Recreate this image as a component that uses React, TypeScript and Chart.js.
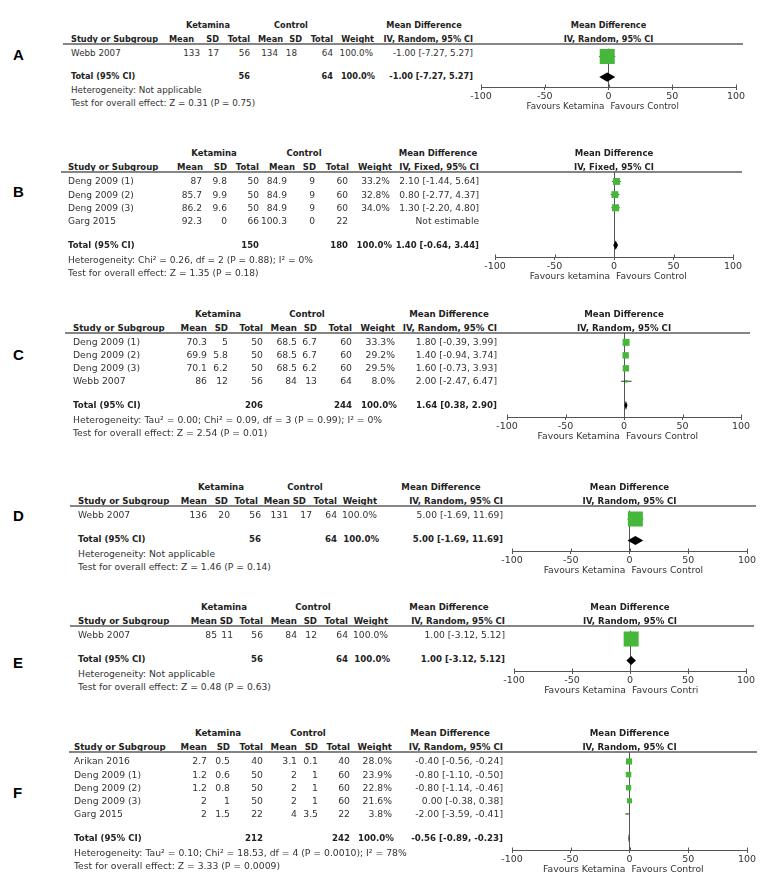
import React, { useEffect, useRef } from "react";
import { Chart, registerables } from "chart.js";

Chart.register(...registerables);

const FONT = '"DejaVu Sans", Verdana, sans-serif';
const GREEN = "#45b83a";
const INK = "#333333";

// ---------- shared axis ticks ----------
const xTicks = [-100, -50, 0, 50, 100];

// ---------- Panel A ----------
const studiesA = ["Webb 2007"];
const ketMeanA = ["133"];
const ketSdA = ["17"];
const ketNA = [56];
const ctlMeanA = ["134"];
const ctlSdA = ["18"];
const ctlNA = [64];
const weightA = [100.0];
const mdA = [-1.0];
const loA = [-7.27];
const hiA = [5.27];
const totalsA = [56, 64, 100.0];
const pooledA = [-1.0, -7.27, 5.27];
const hetA = "Heterogeneity: Not applicable";
const testA = "Test for overall effect: Z = 0.31 (P = 0.75)";

// ---------- Panel B ----------
const studiesB = ["Deng 2009 (1)", "Deng 2009 (2)", "Deng 2009 (3)", "Garg 2015"];
const ketMeanB = ["87", "85.7", "86.2", "92.3"];
const ketSdB = ["9.8", "9.9", "9.6", "0"];
const ketNB = [50, 50, 50, 66];
const ctlMeanB = ["84.9", "84.9", "84.9", "100.3"];
const ctlSdB = ["9", "9", "9", "0"];
const ctlNB = [60, 60, 60, 22];
const weightB = [33.2, 32.8, 34.0, null];
const mdB = [2.1, 0.8, 1.3, null];
const loB = [-1.44, -2.77, -2.2, null];
const hiB = [5.64, 4.37, 4.8, null];
const totalsB = [150, 180, 100.0];
const pooledB = [1.4, -0.64, 3.44];
const hetB = "Heterogeneity: Chi² = 0.26, df = 2 (P = 0.88); I² = 0%";
const testB = "Test for overall effect: Z = 1.35 (P = 0.18)";

// ---------- Panel C ----------
const studiesC = ["Deng 2009 (1)", "Deng 2009 (2)", "Deng 2009 (3)", "Webb 2007"];
const ketMeanC = ["70.3", "69.9", "70.1", "86"];
const ketSdC = ["5", "5.8", "6.2", "12"];
const ketNC = [50, 50, 50, 56];
const ctlMeanC = ["68.5", "68.5", "68.5", "84"];
const ctlSdC = ["6.7", "6.7", "6.2", "13"];
const ctlNC = [60, 60, 60, 64];
const weightC = [33.3, 29.2, 29.5, 8.0];
const mdC = [1.8, 1.4, 1.6, 2.0];
const loC = [-0.39, -0.94, -0.73, -2.47];
const hiC = [3.99, 3.74, 3.93, 6.47];
const totalsC = [206, 244, 100.0];
const pooledC = [1.64, 0.38, 2.9];
const hetC = "Heterogeneity: Tau² = 0.00; Chi² = 0.09, df = 3 (P = 0.99); I² = 0%";
const testC = "Test for overall effect: Z = 2.54 (P = 0.01)";

// ---------- Panel D ----------
const studiesD = ["Webb 2007"];
const ketMeanD = ["136"];
const ketSdD = ["20"];
const ketND = [56];
const ctlMeanD = ["131"];
const ctlSdD = ["17"];
const ctlND = [64];
const weightD = [100.0];
const mdD = [5.0];
const loD = [-1.69];
const hiD = [11.69];
const totalsD = [56, 64, 100.0];
const pooledD = [5.0, -1.69, 11.69];
const hetD = "Heterogeneity: Not applicable";
const testD = "Test for overall effect: Z = 1.46 (P = 0.14)";

// ---------- Panel E ----------
const studiesE = ["Webb 2007"];
const ketMeanE = ["85"];
const ketSdE = ["11"];
const ketNE = [56];
const ctlMeanE = ["84"];
const ctlSdE = ["12"];
const ctlNE = [64];
const weightE = [100.0];
const mdE = [1.0];
const loE = [-3.12];
const hiE = [5.12];
const totalsE = [56, 64, 100.0];
const pooledE = [1.0, -3.12, 5.12];
const hetE = "Heterogeneity: Not applicable";
const testE = "Test for overall effect: Z = 0.48 (P = 0.63)";

// ---------- Panel F ----------
const studiesF = ["Arikan 2016", "Deng 2009 (1)", "Deng 2009 (2)", "Deng 2009 (3)", "Garg 2015"];
const ketMeanF = ["2.7", "1.2", "1.2", "2", "2"];
const ketSdF = ["0.5", "0.6", "0.8", "1", "1.5"];
const ketNF = [40, 50, 50, 50, 22];
const ctlMeanF = ["3.1", "2", "2", "2", "4"];
const ctlSdF = ["0.1", "1", "1", "1", "3.5"];
const ctlNF = [40, 60, 60, 60, 22];
const weightF = [28.0, 23.9, 22.8, 21.6, 3.8];
const mdF = [-0.4, -0.8, -0.8, 0.0, -2.0];
const loF = [-0.56, -1.1, -1.14, -0.38, -3.59];
const hiF = [-0.24, -0.5, -0.46, 0.38, -0.41];
const totalsF = [212, 242, 100.0];
const pooledF = [-0.56, -0.89, -0.23];
const hetF = "Heterogeneity: Tau² = 0.10; Chi² = 18.53, df = 4 (P = 0.0010); I² = 78%";
const testF = "Test for overall effect: Z = 3.33 (P = 0.0009)";

// ---------- layout (positions only) ----------
type Layout = {
  headerY: number; axisY: number; lineX: number[]; px: number[]; studyX: number;
  colR: number[]; hdrR: number[]; groupC: number[]; letterY: number; fs: number;
};

const layA: Layout = { headerY: 44, axisY: 87, lineX: [63, 743], px: [481, 736], studyX: 71,
  colR: [200, 219, 250, 278, 297, 333, 373, 473], hdrR: [194, 219, 250, 283, 302, 333, 374, 473],
  groupC: [208, 291, 424], letterY: 55, fs: 8.2 };
const layB: Layout = { headerY: 172, axisY: 257, lineX: [61, 742], px: [495, 733], studyX: 68,
  colR: [202, 227, 259, 287, 315, 348, 390, 479], hdrR: [203, 227, 259, 295, 316, 349, 392, 479],
  groupC: [214, 304, 438], letterY: 192, fs: 8.5 };
const layC: Layout = { headerY: 333, axisY: 417, lineX: [65, 750], px: [507, 741], studyX: 73,
  colR: [207, 228, 263, 297, 317, 352, 395, 497], hdrR: [207, 228, 263, 297, 317, 352, 395, 497],
  groupC: [218, 307, 449], letterY: 355, fs: 8.65 };
const layD: Layout = { headerY: 506, axisY: 551, lineX: [70, 756], px: [512, 747], studyX: 78,
  colR: [207, 230, 261, 288, 312, 337, 377, 503], hdrR: [207, 228, 258, 290, 306, 337, 377, 503],
  groupC: [221, 305, 441], letterY: 516, fs: 8.6 };
const layE: Layout = { headerY: 626, axisY: 671, lineX: [70, 754], px: [514, 746], studyX: 78,
  colR: [217, 233, 263, 297, 317, 348, 388, 505], hdrR: [217, 233, 263, 297, 317, 348, 388, 505],
  groupC: [224, 313, 449], letterY: 663, fs: 8.6 };
const layF: Layout = { headerY: 752, axisY: 850, lineX: [69, 757], px: [512, 747], studyX: 74,
  colR: [207, 230, 263, 297, 318, 350, 392, 503], hdrR: [207, 230, 263, 297, 318, 350, 392, 503],
  groupC: [218, 308, 450], letterY: 793, fs: 8.65 };

type Panel = {
  letter: string; studies: string[]; ketMean: string[]; ketSd: string[]; ketN: number[];
  ctlMean: string[]; ctlSd: string[]; ctlN: number[]; weight: (number | null)[];
  md: (number | null)[]; lo: (number | null)[]; hi: (number | null)[];
  totals: number[]; pooled: number[]; method: string; het: string; test: string;
  favL: string; favR: string; lay: Layout;
};

const panels: Panel[] = [
  { letter: "A", studies: studiesA, ketMean: ketMeanA, ketSd: ketSdA, ketN: ketNA, ctlMean: ctlMeanA, ctlSd: ctlSdA, ctlN: ctlNA,
    weight: weightA, md: mdA, lo: loA, hi: hiA, totals: totalsA, pooled: pooledA, method: "IV, Random, 95% CI",
    het: hetA, test: testA, favL: "Favours Ketamina", favR: "Favours Control", lay: layA },
  { letter: "B", studies: studiesB, ketMean: ketMeanB, ketSd: ketSdB, ketN: ketNB, ctlMean: ctlMeanB, ctlSd: ctlSdB, ctlN: ctlNB,
    weight: weightB, md: mdB, lo: loB, hi: hiB, totals: totalsB, pooled: pooledB, method: "IV, Fixed, 95% CI",
    het: hetB, test: testB, favL: "Favours ketamina", favR: "Favours Control", lay: layB },
  { letter: "C", studies: studiesC, ketMean: ketMeanC, ketSd: ketSdC, ketN: ketNC, ctlMean: ctlMeanC, ctlSd: ctlSdC, ctlN: ctlNC,
    weight: weightC, md: mdC, lo: loC, hi: hiC, totals: totalsC, pooled: pooledC, method: "IV, Random, 95% CI",
    het: hetC, test: testC, favL: "Favours Ketamina", favR: "Favours Control", lay: layC },
  { letter: "D", studies: studiesD, ketMean: ketMeanD, ketSd: ketSdD, ketN: ketND, ctlMean: ctlMeanD, ctlSd: ctlSdD, ctlN: ctlND,
    weight: weightD, md: mdD, lo: loD, hi: hiD, totals: totalsD, pooled: pooledD, method: "IV, Random, 95% CI",
    het: hetD, test: testD, favL: "Favours Ketamina", favR: "Favours Control", lay: layD },
  { letter: "E", studies: studiesE, ketMean: ketMeanE, ketSd: ketSdE, ketN: ketNE, ctlMean: ctlMeanE, ctlSd: ctlSdE, ctlN: ctlNE,
    weight: weightE, md: mdE, lo: loE, hi: hiE, totals: totalsE, pooled: pooledE, method: "IV, Random, 95% CI",
    het: hetE, test: testE, favL: "Favours Ketamina", favR: "Favours Contri", lay: layE },
  { letter: "F", studies: studiesF, ketMean: ketMeanF, ketSd: ketSdF, ketN: ketNF, ctlMean: ctlMeanF, ctlSd: ctlSdF, ctlN: ctlNF,
    weight: weightF, md: mdF, lo: loF, hi: hiF, totals: totalsF, pooled: pooledF, method: "IV, Random, 95% CI",
    het: hetF, test: testF, favL: "Favours Ketamina", favR: "Favours Control", lay: layF },
];

const GAP = 1.85;      // rows between last study and total
const Y_TOP = -0.72;   // header rule position in row units
const Y_BOT = 0.9;     // axis below total row in row units
const AXIS_H = 16;
const CL = 440;
const CW = 340;

const fmtCI = (m: number, l: number, h: number) => `${m.toFixed(2)} [${l.toFixed(2)}, ${h.toFixed(2)}]`;

function Txt(props: { x: number; y: number; align?: "left" | "right" | "center"; bold?: boolean; size: number; color?: string; font?: string; children: React.ReactNode }) {
  const { x, y, align = "left", bold = false, size, color = INK, font = FONT, children } = props;
  const style: React.CSSProperties = {
    position: "absolute", top: y - 7, height: 14, lineHeight: "14px", fontSize: size,
    fontWeight: bold ? "bold" : "normal", color, whiteSpace: "nowrap", fontFamily: font,
  };
  if (align === "left") style.left = x;
  else if (align === "right") style.right = 780 - x;
  else { style.left = x; style.transform = "translateX(-50%)"; }
  return <div style={style}>{children}</div>;
}

function ForestChart({ p }: { p: Panel }) {
  const ref = useRef<HTMLCanvasElement>(null);
  const L = p.lay;
  const n = p.studies.length;
  const totalIdx = n - 1 + GAP;
  const top = L.headerY - 6;
  const h = L.axisY - top + AXIS_H;

  useEffect(() => {
    if (!ref.current) return;
    const squares: { x: number; y: number }[] = [];
    const radii: number[] = [];
    const whiskers: any[] = [];
    p.md.forEach((m, i) => {
      if (m == null) return;
      const w = p.weight[i] as number;
      const side = Math.max(1.5, 15 * Math.pow(w / 100, 0.7));
      squares.push({ x: m, y: i });
      radii.push(side / Math.SQRT2);
      whiskers.push({
        type: "scatter", showLine: true, order: 1,
        data: [{ x: p.lo[i], y: i }, { x: p.hi[i], y: i }],
        borderColor: "#333", borderWidth: 1, pointRadius: 0, pointHoverRadius: 0,
      });
    });

    const forestPlugin = {
      id: "forestExtras",
      afterDatasetsDraw(chart: any) {
        const xs = chart.scales.x, ys = chart.scales.y;
        const ctx = chart.ctx;
        // pooled diamond
        const [m, lo, hi] = p.pooled;
        const yc = ys.getPixelForValue(totalIdx);
        const hh = 4.6;
        ctx.save();
        ctx.beginPath();
        ctx.moveTo(xs.getPixelForValue(lo), yc);
        ctx.lineTo(xs.getPixelForValue(m), yc - hh);
        ctx.lineTo(xs.getPixelForValue(hi), yc);
        ctx.lineTo(xs.getPixelForValue(m), yc + hh);
        ctx.closePath();
        ctx.fillStyle = "#000";
        ctx.fill();
        // tick marks crossing the axis line (upper half)
        const ay = chart.chartArea.bottom;
        ctx.strokeStyle = "#555";
        ctx.lineWidth = 1;
        xTicks.forEach((v) => {
          const x = Math.round(xs.getPixelForValue(v)) + 0.5;
          ctx.beginPath();
          ctx.moveTo(x, ay - 2.5);
          ctx.lineTo(x, ay);
          ctx.stroke();
        });
        ctx.restore();
      },
    };

    const chart = new Chart(ref.current, {
      type: "scatter",
      data: {
        datasets: [
          {
            data: squares, order: 0, pointStyle: "rect", pointRadius: radii, pointHoverRadius: radii,
            backgroundColor: GREEN, borderColor: GREEN, borderWidth: 0,
          } as any,
          ...whiskers,
        ],
      },
      options: {
        animation: false,
        responsive: false,
        devicePixelRatio: 1,
        events: [],
        layout: { padding: { left: L.px[0] - CL, right: CL + CW - L.px[1], top: L.headerY - top, bottom: 0 } },
        plugins: { legend: { display: false }, tooltip: { enabled: false } },
        scales: {
          x: {
            type: "linear", min: xTicks[0], max: xTicks[xTicks.length - 1], position: "bottom",
            afterBuildTicks: (s: any) => { s.ticks = xTicks.map((v) => ({ value: v })); },
            ticks: { font: { family: FONT, size: 9.5 }, color: "#333", padding: 1, maxRotation: 0, autoSkip: false },
            grid: {
              color: (c: any) => (c.tick && c.tick.value === 0 ? "#555" : "rgba(0,0,0,0)"),
              lineWidth: 1, tickLength: 3, tickColor: "#555", drawTicks: true,
            },
            border: { display: true, color: "#555", width: 1 },
            afterFit: (s: any) => { s.height = AXIS_H; },
          },
          y: { type: "linear", display: false, reverse: true, min: Y_TOP, max: totalIdx + Y_BOT },
        },
      } as any,
      plugins: [forestPlugin],
    });
    return () => chart.destroy();
  }, [p]);

  return (
    <canvas ref={ref} width={CW} height={h}
      style={{ position: "absolute", left: CL, top, width: CW, height: h }} />
  );
}

function PanelView({ p }: { p: Panel }) {
  const L = p.lay;
  const n = p.studies.length;
  const totalIdx = n - 1 + GAP;
  const yMax = totalIdx + Y_BOT;
  const rowY = (v: number) => L.headerY + ((v - Y_TOP) / (yMax - Y_TOP)) * (L.axisY - L.headerY);
  const fB = L.fs;
  const fN = L.fs * 1.07;
  const px0 = (L.px[0] + L.px[1]) / 2;
  const ty = rowY(totalIdx);
  const g = L.headerY - 19;
  const c = L.headerY - 5.5;
  const hdr = ["Mean", "SD", "Total", "Mean", "SD", "Total", "Weight"];

  return (
    <>
      <Txt x={13} y={L.letterY} bold size={15} color="#000" font='"Liberation Sans", Arial, sans-serif'>{p.letter}</Txt>
      <Txt x={L.groupC[0]} y={g} align="center" bold size={fB} color="#222">Ketamina</Txt>
      <Txt x={L.groupC[1]} y={g} align="center" bold size={fB} color="#222">Control</Txt>
      <Txt x={L.groupC[2]} y={g} align="center" bold size={fB} color="#222">Mean Difference</Txt>
      <Txt x={px0} y={g} align="center" bold size={fB} color="#222">Mean Difference</Txt>
      <Txt x={L.studyX} y={c} bold size={fB} color="#222">Study or Subgroup</Txt>
      {hdr.map((t, k) => (
        <Txt key={"h" + k} x={L.hdrR[k]} y={c} align="right" bold size={fB} color="#222">{t}</Txt>
      ))}
      <Txt x={L.hdrR[7]} y={c} align="right" bold size={fB} color="#222">{p.method}</Txt>
      <Txt x={px0} y={c} align="center" bold size={fB} color="#222">{p.method}</Txt>
      <div style={{ position: "absolute", left: L.lineX[0], width: L.lineX[1] - L.lineX[0], top: L.headerY - 1, height: 2, background: "#858585" }} />
      {p.studies.map((s, i) => {
        const y = rowY(i);
        const vals = [p.ketMean[i], p.ketSd[i], String(p.ketN[i]), p.ctlMean[i], p.ctlSd[i], String(p.ctlN[i])];
        const w = p.weight[i];
        const m = p.md[i];
        return (
          <React.Fragment key={"r" + i}>
            <Txt x={L.studyX} y={y} size={fN}>{s}</Txt>
            {vals.map((v, k) => (
              <Txt key={k} x={L.colR[k]} y={y} align="right" size={fN}>{v}</Txt>
            ))}
            {w != null && <Txt x={L.colR[6]} y={y} align="right" size={fN}>{w.toFixed(1) + "%"}</Txt>}
            <Txt x={L.colR[7]} y={y} align="right" size={fN}>
              {m != null ? fmtCI(m, p.lo[i] as number, p.hi[i] as number) : "Not estimable"}
            </Txt>
          </React.Fragment>
        );
      })}
      <Txt x={L.studyX} y={ty} bold size={fB} color="#222">Total (95% CI)</Txt>
      <Txt x={L.colR[2]} y={ty} align="right" bold size={fB} color="#222">{String(p.totals[0])}</Txt>
      <Txt x={L.colR[5]} y={ty} align="right" bold size={fB} color="#222">{String(p.totals[1])}</Txt>
      <Txt x={L.colR[6] + 2} y={ty} align="right" bold size={fB} color="#222">{p.totals[2].toFixed(1) + "%"}</Txt>
      <Txt x={L.colR[7]} y={ty} align="right" bold size={fB} color="#222">{fmtCI(p.pooled[0], p.pooled[1], p.pooled[2])}</Txt>
      <Txt x={L.studyX} y={ty + 14.5} size={fN}>{p.het}</Txt>
      <Txt x={L.studyX} y={ty + 27.5} size={fN}>{p.test}</Txt>
      <ForestChart p={p} />
      <Txt x={px0 - 4} y={L.axisY + 19} align="right" size={fN}>{p.favL}</Txt>
      <Txt x={px0 + 2} y={L.axisY + 19} size={fN}>{p.favR}</Txt>
    </>
  );
}

export default function App() {
  return (
    <div style={{ position: "absolute", left: 0, top: 0, width: 780, height: 883, background: "#fff", overflow: "hidden" }}>
      {panels.map((p) => (
        <PanelView key={p.letter} p={p} />
      ))}
    </div>
  );
}
